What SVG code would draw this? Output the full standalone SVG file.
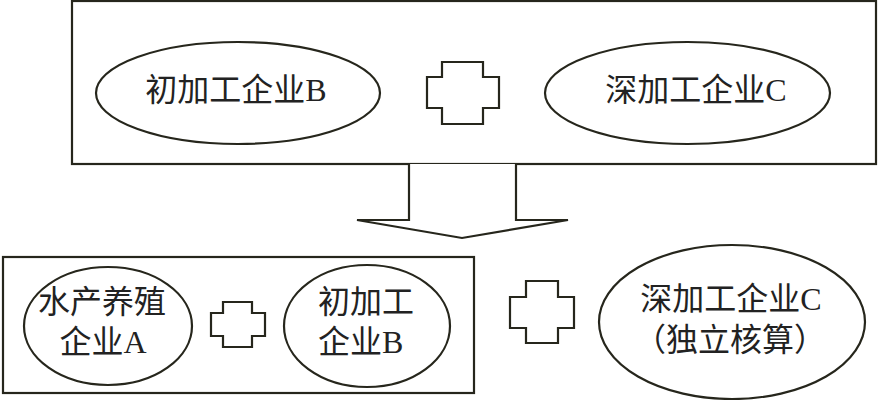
<svg xmlns="http://www.w3.org/2000/svg" width="878" height="400" viewBox="0 0 878 400">
<style>
.s{fill:none;stroke:#26261c;stroke-width:2.2}
.w{fill:#fff;stroke:#26261c;stroke-width:2.2}
text{font-family:"Liberation Serif","Noto Sans CJK SC",serif;font-size:32px;fill:#222}
</style>
<rect width="878" height="400" fill="#fff"/>
<g id="top-box"><rect class="s" x="72" y="1" width="804" height="163"/></g>
<g id="node-b-top"><ellipse class="s" cx="238" cy="93" rx="142" ry="51"/><text x="236" y="101" text-anchor="middle">初加工企业B</text></g>
<g id="plus-top"><path class="s" d="M442,62H483V77H499V108H483V124H442V108H427V77H442Z"/></g>
<g id="node-c-top"><ellipse class="s" cx="687.5" cy="93" rx="142.5" ry="51"/><text x="696" y="101" text-anchor="middle">深加工企业C</text></g>
<g id="connectors"><path class="w" d="M409,164V220H357L462,238L568,220H516V164"/></g>
<g id="bottom-box"><rect class="s" x="3" y="257" width="471" height="136"/></g>
<g id="node-a"><ellipse class="s" cx="108" cy="326" rx="84" ry="59"/><text x="102" y="313" text-anchor="middle">水产养殖</text><text x="103" y="353" text-anchor="middle">企业A</text></g>
<g id="plus-mid"><path class="s" d="M223,302H252V313H265V336H252V347H223V336H211V313H223Z"/></g>
<g id="node-b"><ellipse class="s" cx="367" cy="326" rx="83" ry="61"/><text x="318" y="313">初加工</text><text x="318" y="353">企业B</text></g>
<g id="plus-right"><path class="s" d="M526,281H558V297H574V328H558V343H526V328H510V297H526Z"/></g>
<g id="node-c"><ellipse class="s" cx="732" cy="322" rx="133" ry="77"/><text x="731" y="310" text-anchor="middle">深加工企业C</text><text x="730" y="351" text-anchor="middle">（独立核算）</text></g>
</svg>
